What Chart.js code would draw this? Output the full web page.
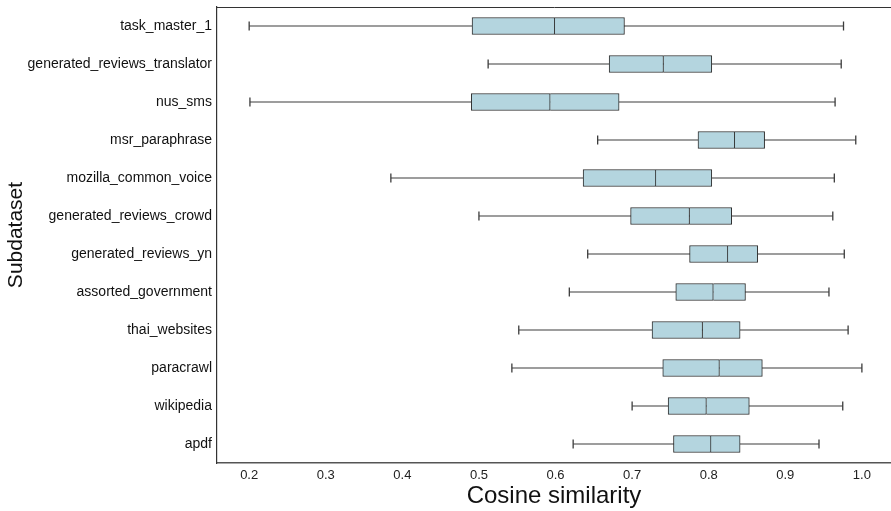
<!DOCTYPE html>
<html>
<head>
<meta charset="utf-8">
<script src="https://cdn.jsdelivr.net/npm/chart.js@4"></script>
<style>
  html, body { margin: 0; padding: 0; background: #ffffff; }
  canvas { display: block; }
</style>
</head>
<body>
<canvas id="c" width="891" height="511"></canvas>
<script>
const categories = ['task_master_1','generated_reviews_translator','nus_sms','msr_paraphrase','mozilla_common_voice','generated_reviews_crowd','generated_reviews_yn','assorted_government','thai_websites','paracrawl','wikipedia','apdf'];
const whiskerLow  = [0.200,0.512,0.201,0.655,0.385,0.500,0.642,0.618,0.552,0.543,0.700,0.623];
const q1          = [0.491,0.670,0.490,0.786,0.636,0.698,0.775,0.757,0.726,0.740,0.747,0.754];
const median      = [0.599,0.741,0.593,0.834,0.731,0.775,0.825,0.806,0.792,0.814,0.797,0.803];
const q3          = [0.690,0.804,0.683,0.873,0.804,0.830,0.864,0.848,0.841,0.870,0.853,0.841];
const whiskerHigh = [0.976,0.973,0.965,0.992,0.964,0.962,0.977,0.957,0.982,1.000,0.975,0.944];
const xTickValues = [0.2,0.3,0.4,0.5,0.6,0.7,0.8,0.9,1.0];
const xMin = 0.158, xMax = 1.038;
const xTitle = 'Cosine similarity';
const yTitle = 'Subdataset';

const boxFill = '#b4d5df';
const boxEdge = '#2e2e2e';
const whiskerColor = '#3c3c3c';
const font = "'Liberation Sans', Arial, sans-serif";

const whiskerPoints = [];
categories.forEach((c, i) => {
  whiskerPoints.push({x: whiskerLow[i], y: c});
  whiskerPoints.push({x: whiskerHigh[i], y: c});
  whiskerPoints.push({x: null, y: c});
});

function zeroPad(s) { s.paddingTop = 0; s.paddingBottom = 0; s.paddingLeft = 0; s.paddingRight = 0; }

new Chart(document.getElementById('c'), {
  type: 'bar',
  data: {
    labels: categories,
    datasets: [
      {
        type: 'line',
        data: whiskerPoints,
        borderColor: whiskerColor,
        borderWidth: 1.2,
        spanGaps: false,
        pointStyle: 'line',
        rotation: 90,
        pointRadius: 4.5,
        pointBorderColor: whiskerColor,
        pointBorderWidth: 1.3,
        order: 3
      },
      {
        data: categories.map((c, i) => [q1[i], median[i]]),
        backgroundColor: boxFill,
        borderColor: boxEdge,
        borderWidth: 1,
        borderSkipped: false,
        barThickness: 17,
        grouped: false,
        order: 1
      },
      {
        data: categories.map((c, i) => [median[i], q3[i]]),
        backgroundColor: boxFill,
        borderColor: boxEdge,
        borderWidth: 1,
        borderSkipped: 'left',
        barThickness: 17,
        grouped: false,
        order: 1
      }
    ]
  },
  options: {
    indexAxis: 'y',
    responsive: false,
    animation: false,
    layout: { autoPadding: false, padding: { top: 7, left: 0, right: 0, bottom: 0 } },
    plugins: { legend: { display: false }, tooltip: { enabled: false } },
    scales: {
      x: {
        type: 'linear',
        position: 'bottom',
        min: xMin,
        max: xMax,
        afterBuildTicks: (s) => { s.ticks = xTickValues.map(v => ({value: v})); },
        afterFit: (s) => { s.height = 48; zeroPad(s); },
        grid: { display: false, drawTicks: false },
        border: { display: true, color: '#555555', width: 1.5 },
        ticks: {
          padding: 5,
          color: '#222222',
          font: { family: font, size: 13 },
          callback: (v) => Number(v).toFixed(1)
        },
        title: {
          display: true,
          text: xTitle,
          color: '#111111',
          font: { family: font, size: 24 },
          padding: { top: 0, bottom: 0 }
        }
      },
      x2: {
        type: 'linear',
        position: 'top',
        min: xMin,
        max: xMax,
        afterFit: (s) => { s.height = 0; zeroPad(s); },
        grid: { display: false, drawTicks: false },
        border: { display: true, color: '#333333', width: 1 },
        ticks: { display: false }
      },
      y: {
        type: 'category',
        position: 'left',
        offset: true,
        afterFit: (s) => { s.width = 217; zeroPad(s); },
        grid: { display: false, drawTicks: false },
        border: { display: true, color: '#333333', width: 1.2 },
        ticks: {
          padding: 5,
          color: '#111111',
          font: { family: font, size: 14 },
          autoSkip: false
        },
        title: {
          display: true,
          text: yTitle,
          color: '#111111',
          font: { family: font, size: 21 },
          padding: { top: 4, bottom: 0 }
        }
      }
    }
  }
});
</script>
</body>
</html>
